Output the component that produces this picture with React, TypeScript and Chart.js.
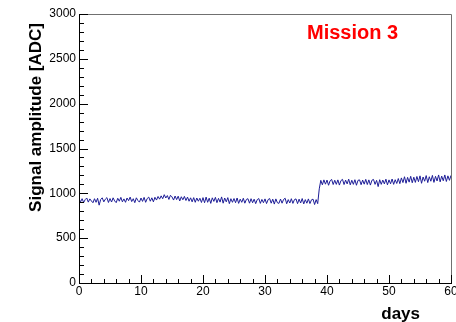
import React, { useEffect, useRef } from "react";
import { Chart, registerables } from "chart.js";

Chart.register(...registerables);

// Sampling grid: one reading every quarter day, starting at day 0
const SAMPLE_STEP_DAYS = 0.25;

// Signal amplitude readings [ADC], days 0 .. 38.5
const amplitudeBefore: number[] = [
  935, 905, 940, 898, 930, 948, 902, 938, 915, 895,
  940, 900, 945, 868, 932, 950, 905, 935, 952, 898,
  942, 903, 950, 915, 896, 945, 912, 955, 905, 938,
  900, 948, 918, 958, 908, 940, 896, 950, 920, 902,
  948, 910, 955, 900, 942, 958, 912, 950, 905, 956,
  925, 965, 935, 972, 940, 985, 948, 975, 932, 978,
  960, 925, 970, 930, 968, 915, 962, 928, 966, 920,
  958, 912, 950, 905, 952, 900, 948, 912, 945, 898,
  952, 895, 958, 900, 946, 888, 950, 910, 955, 896,
  944, 902, 960, 890, 948, 905, 952, 885, 940, 900,
  942, 895, 948, 888, 935, 900, 945, 890, 932, 940,
  890, 940, 895, 935, 885, 930, 942, 888, 932, 895,
  938, 886, 930, 942, 890, 935, 880, 938, 895, 888,
  936, 890, 932, 945, 884, 930, 892, 940, 888, 930,
  938, 885, 935, 892, 942, 882, 930, 890, 938, 886,
  928, 935, 875, 930, 885,
];

// Reading taken during the step, day 38.75
const amplitudeStep: number[] = [1050];

// Signal amplitude readings [ADC], days 39 .. 60
const amplitudeAfter: number[] = [
  1145, 1095, 1150, 1102, 1148, 1090, 1140, 1155, 1098, 1146,
  1100, 1150, 1092, 1142, 1156, 1098, 1148, 1105, 1158, 1095,
  1146, 1100, 1152, 1090, 1145, 1150, 1096, 1148, 1102, 1156,
  1098, 1150, 1092, 1146, 1155, 1100, 1145, 1075, 1152, 1100,
  1148, 1105, 1158, 1095, 1150, 1106, 1160, 1100, 1152, 1110,
  1165, 1108, 1172, 1120, 1185, 1112, 1178, 1125, 1190, 1118,
  1180, 1122, 1188, 1130, 1195, 1112, 1182, 1135, 1198, 1120,
  1185, 1135, 1200, 1122, 1190, 1138, 1205, 1128, 1192, 1140,
  1205, 1132, 1195, 1145, 1200,
];

// Axis ranges and divisions
const X_MIN = 0;
const X_MAX = 60;
const X_MAJOR = 10;
const X_MINOR = 2;
const Y_MIN = 0;
const Y_MAX = 3000;
const Y_MAJOR = 500;
const Y_MINOR = 100;

const X_TITLE = "days";
const Y_TITLE = "Signal amplitude [ADC]";
const LABEL_TEXT = "Mission 3";

const FONT = "'Liberation Sans', Arial, Helvetica, sans-serif";
const LINE_COLOR = "rgb(28, 28, 150)";

const amplitude = [...amplitudeBefore, ...amplitudeStep, ...amplitudeAfter];
const points = amplitude.map((v, i) => ({ x: i * SAMPLE_STEP_DAYS, y: v }));

// Frame, inward tick marks, axis titles and the mission label
const decorations = {
  id: "rootStyleFrame",
  afterDraw(chart: Chart) {
    const { ctx, chartArea } = chart;
    const { left, right, top, bottom } = chartArea;
    const xs = chart.scales.x;
    const ys = chart.scales.y;
    ctx.save();

    // top and right frame edges
    ctx.strokeStyle = "#707070";
    ctx.lineWidth = 1;
    ctx.beginPath();
    ctx.moveTo(left, top + 0.5);
    ctx.lineTo(right + 0.5, top + 0.5);
    ctx.lineTo(right + 0.5, bottom);
    ctx.stroke();

    // axes
    ctx.strokeStyle = "#000";
    ctx.beginPath();
    ctx.moveTo(left + 0.5, top);
    ctx.lineTo(left + 0.5, bottom + 0.5);
    ctx.lineTo(right + 1, bottom + 0.5);
    ctx.stroke();

    // y ticks (inward)
    ctx.beginPath();
    for (let v = Y_MIN; v <= Y_MAX; v += Y_MINOR) {
      const y = Math.round(ys.getPixelForValue(v)) + 0.5;
      const len = v % Y_MAJOR === 0 ? 9 : 5;
      ctx.moveTo(left, y);
      ctx.lineTo(left + len, y);
    }
    // x ticks (inward)
    for (let v = X_MIN; v <= X_MAX; v += X_MINOR) {
      const x = Math.round(xs.getPixelForValue(v)) + 0.5;
      const len = v % X_MAJOR === 0 ? 8 : 4;
      ctx.moveTo(x, bottom);
      ctx.lineTo(x, bottom - len);
    }
    ctx.stroke();

    // axis titles
    ctx.fillStyle = "#000";
    ctx.font = `bold 17px ${FONT}`;
    ctx.textAlign = "right";
    ctx.textBaseline = "alphabetic";
    ctx.fillText(X_TITLE, 420, 319);

    ctx.save();
    ctx.translate(41, 23);
    ctx.rotate(-Math.PI / 2);
    ctx.textAlign = "right";
    ctx.textBaseline = "alphabetic";
    ctx.fillText(Y_TITLE, 0, 0);
    ctx.restore();

    // mission label
    ctx.fillStyle = "#ff0000";
    ctx.font = `bold 20px ${FONT}`;
    ctx.textAlign = "left";
    ctx.textBaseline = "alphabetic";
    ctx.fillText(LABEL_TEXT, 307, 39);

    ctx.restore();
  },
};

export default function App() {
  const canvasRef = useRef<HTMLCanvasElement | null>(null);

  useEffect(() => {
    document.body.style.margin = "0";
    const canvas = canvasRef.current;
    if (!canvas) return;

    const tickFont = { family: FONT, size: 12 };
    const plainNumber = (v: string | number) => String(v);

    const chart = new Chart(canvas, {
      type: "line",
      data: {
        datasets: [
          {
            data: points,
            borderColor: LINE_COLOR,
            borderWidth: 1,
            pointRadius: 0,
            tension: 0,
            fill: false,
          },
        ],
      },
      options: {
        animation: false,
        responsive: false,
        devicePixelRatio: 1,
        layout: { padding: { top: 14, right: 5, left: 0, bottom: 0 } },
        plugins: {
          legend: { display: false },
          tooltip: { enabled: false },
        },
        scales: {
          x: {
            type: "linear",
            min: X_MIN,
            max: X_MAX,
            grid: { display: false, drawTicks: false },
            border: { display: false },
            ticks: {
              stepSize: X_MAJOR,
              padding: 1,
              color: "#000",
              font: tickFont,
              maxRotation: 0,
              autoSkip: false,
              callback: plainNumber,
            },
            afterFit(scale: any) {
              scale.height = 39;
              scale.paddingLeft = 0;
              scale.paddingRight = 0;
            },
          },
          y: {
            type: "linear",
            min: Y_MIN,
            max: Y_MAX,
            grid: { display: false, drawTicks: false },
            border: { display: false },
            ticks: {
              stepSize: Y_MAJOR,
              padding: 3,
              color: "#000",
              font: tickFont,
              autoSkip: false,
              callback: plainNumber,
            },
            afterFit(scale: any) {
              scale.width = 79;
              scale.paddingTop = 0;
              scale.paddingBottom = 0;
            },
          },
        },
      },
      plugins: [decorations],
    });

    return () => chart.destroy();
  }, []);

  return (
    <canvas
      ref={canvasRef}
      width={456}
      height={322}
      style={{ display: "block", width: 456, height: 322 }}
    />
  );
}
